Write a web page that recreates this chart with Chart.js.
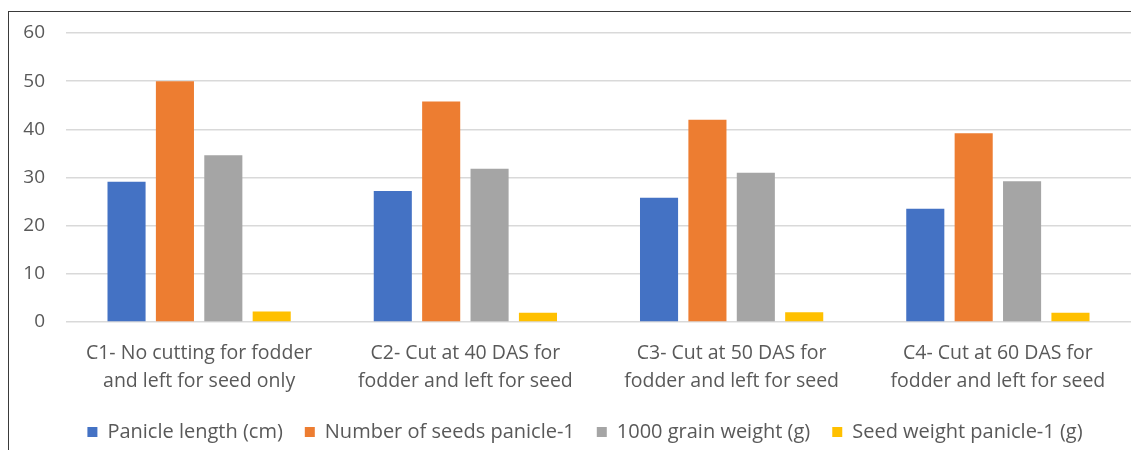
<!DOCTYPE html>
<html>
<head>
<meta charset="utf-8">
<script src="https://cdn.jsdelivr.net/npm/chart.js@4"></script>
<style>
  html, body { margin: 0; padding: 0; background: #ffffff; }
  body { width: 1131px; height: 450px; position: relative; overflow: hidden; }
  #frame {
    position: absolute; left: 8px; top: 11px; right: 0; bottom: 0;
    border-top: 1px solid #3a3a3a; border-left: 1px solid #3a3a3a;
  }
  #wrap { position: absolute; left: 9px; top: 12px; width: 1122px; height: 440px; }
</style>
</head>
<body>
<div id="frame"></div>
<div id="wrap"><canvas id="chart"></canvas></div>
<script>
// Cutting treatments (x-axis categories, two lines each)
const categories = [
  ['C1- No cutting for fodder', 'and left for seed only'],
  ['C2- Cut at 40 DAS for', 'fodder and left for seed'],
  ['C3- Cut at 50 DAS for', 'fodder and left for seed'],
  ['C4- Cut at 60 DAS for', 'fodder and left for seed']
];

// Yield attributes per treatment
const panicleLength = [29.1, 27.2, 25.8, 23.5];
const seedsPerPanicle = [50.0, 45.8, 42.0, 39.2];
const grainWeight1000 = [34.6, 31.8, 31.0, 29.2];
const seedWeightPanicle = [2.2, 1.9, 2.0, 1.9];

const seriesNames = [
  'Panicle length (cm)',
  'Number of seeds panicle-1',
  '1000 grain weight (g)',
  'Seed weight panicle-1 (g)'
];

// Value axis
const yMin = 0, yMax = 60, yStep = 10;

const FONT = '"Open Sans", Lato, sans-serif';
const TEXT = '#595959';

// Nudge the legend row sideways after layout
const legendShift = {
  id: 'legendShift',
  afterLayout(chart) {
    const lg = chart.legend;
    if (lg) { lg.left += 15; lg.right += 15; }
  }
};

new Chart(document.getElementById('chart'), {
  type: 'bar',
  data: {
    labels: categories,
    datasets: [
      { label: seriesNames[0], data: panicleLength, backgroundColor: '#4472C4' },
      { label: seriesNames[1], data: seedsPerPanicle, backgroundColor: '#ED7D31' },
      { label: seriesNames[2], data: grainWeight1000, backgroundColor: '#A5A5A5' },
      { label: seriesNames[3], data: seedWeightPanicle, backgroundColor: '#FFC000' }
    ]
  },
  options: {
    responsive: true,
    maintainAspectRatio: false,
    animation: false,
    layout: { padding: { top: 21, right: 0, left: 0, bottom: 0 } },
    datasets: {
      bar: { categoryPercentage: 0.727, barPercentage: 0.787 }
    },
    scales: {
      x: {
        grid: { display: false, drawTicks: false },
        border: { display: false },
        ticks: {
          color: TEXT,
          font: { family: FONT, size: 19.5, lineHeight: 1.45 },
          padding: 17,
          maxRotation: 0,
          autoSkip: false
        },
        afterFit(scale) { scale.height = 78; }
      },
      y: {
        min: yMin, max: yMax,
        grid: { color: '#d9d9d9', lineWidth: 1.5, drawTicks: false },
        border: { display: false },
        ticks: {
          stepSize: yStep,
          color: TEXT,
          font: { family: FONT, size: 19 },
          padding: 21
        },
        afterFit(scale) {
          scale.width = 57;
          scale.paddingTop = 0;
          scale.paddingBottom = 0;
        }
      }
    },
    plugins: {
      legend: {
        position: 'bottom',
        labels: {
          color: TEXT,
          font: { family: FONT, size: 20 },
          boxWidth: 10,
          boxHeight: 10,
          padding: 22
        }
      },
      tooltip: { enabled: false }
    }
  },
  plugins: [legendShift]
});
</script>
</body>
</html>
